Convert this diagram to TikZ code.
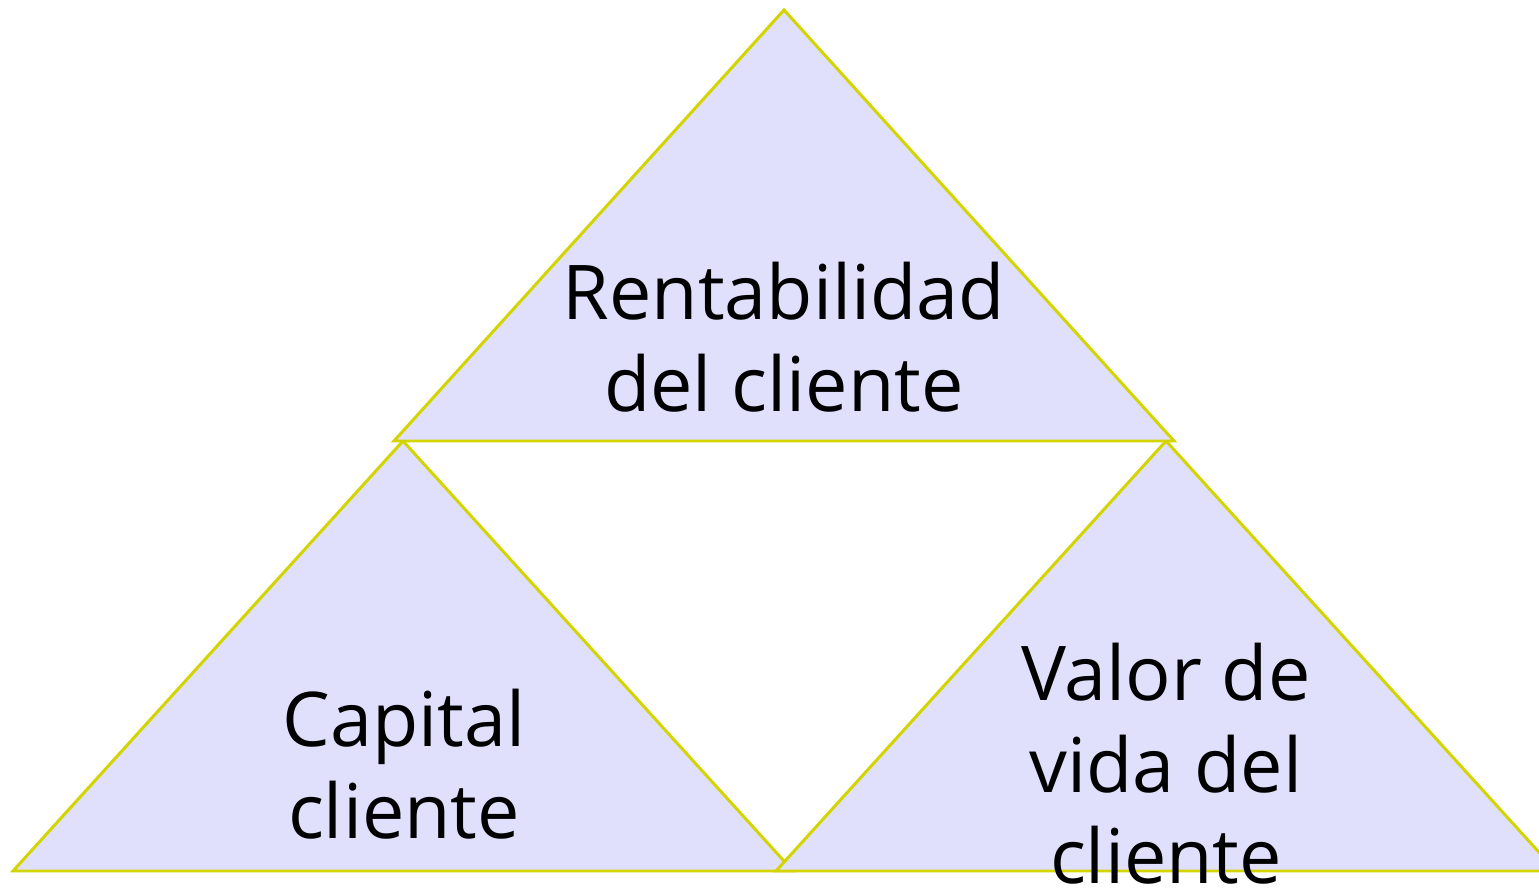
\documentclass[tikz,border=0pt]{standalone}
\usepackage{fontspec}
\setmainfont{Open Sans}
\usepackage{tikz}
\usetikzlibrary{positioning}
\definecolor{triFill}{HTML}{E0E0FC}
\definecolor{triLine}{HTML}{D4D400}

\begin{document}
\begin{tikzpicture}[x=0.02cm, y=-0.02cm,
  tri/.style={fill=triFill, draw=triLine, line width=1.7pt, line join=miter},
  label node/.style={align=center, font=\fontsize{43}{52}\selectfont, inner sep=0pt}]

\useasboundingbox (0,0) rectangle (1539,891);

% corners of the three triangles
\coordinate (T1) at (784,10);
\coordinate (T2) at (394,441);
\coordinate (T3) at (1174,441);
\coordinate (L1) at (403,441);
\coordinate (L2) at (13,871);
\coordinate (L3) at (793,871);
\coordinate (R1) at (1166,441);
\coordinate (R2) at (776,871);
\coordinate (R3) at (1556,871);

\draw[tri] (L1) -- (L2) -- (L3) -- cycle;
\draw[tri] (R1) -- (R2) -- (R3) -- cycle;
\draw[tri] (T1) -- (T2) -- (T3) -- cycle;

\node[label node] (top) at (784,337) {Rentabilidad\\del cliente};
\node[label node] (capital) at (404,764) {Capital\\cliente};
\node[label node] (valor) at (1166,764) {Valor de\\vida del\\cliente};

\end{tikzpicture}
\end{document}
